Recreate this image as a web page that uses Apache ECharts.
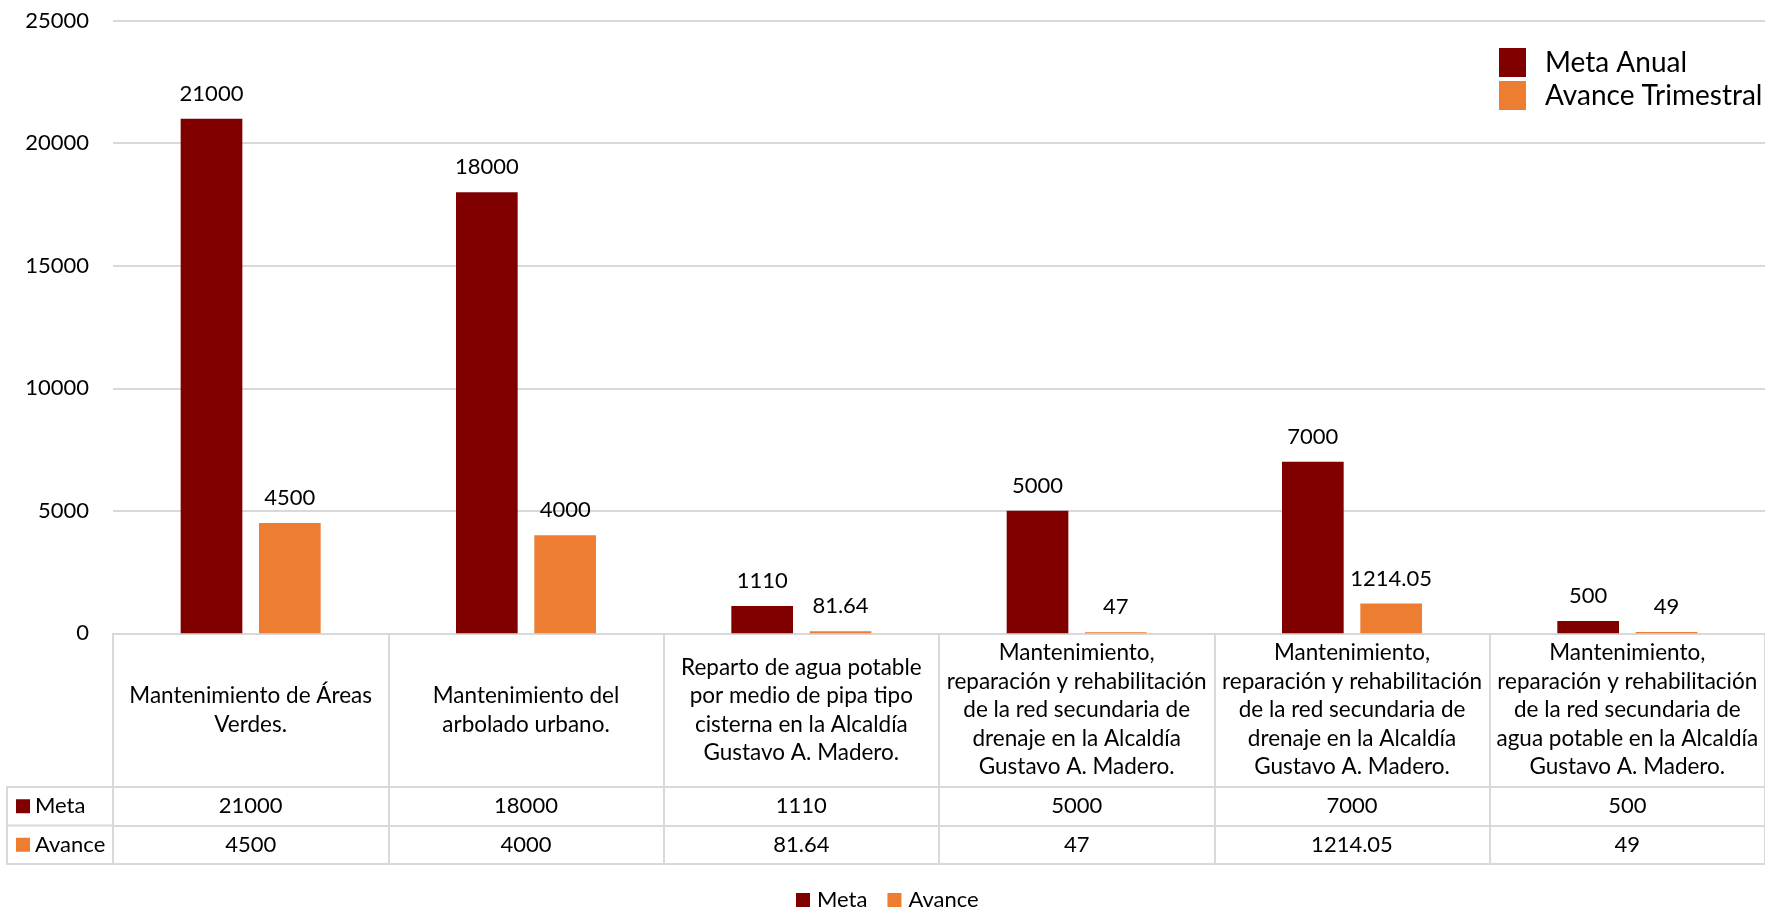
<!DOCTYPE html>
<html>
<head>
<meta charset="utf-8">
<title>Meta Anual vs Avance Trimestral</title>
<script src="https://cdn.jsdelivr.net/npm/echarts@6/dist/echarts.min.js"></script>
<style>
  html, body { margin: 0; padding: 0; background: #fff; }
  #chart { width: 1765px; height: 908px; }
</style>
</head>
<body>
<div id="chart"></div>
<script>
// datos
const categories = [
  'Mantenimiento de Áreas\nVerdes.',
  'Mantenimiento del\narbolado urbano.',
  'Reparto de agua potable\npor medio de pipa tipo\ncisterna en la Alcaldía\nGustavo A. Madero.',
  'Mantenimiento,\nreparación y rehabilitación\nde la red secundaria de\ndrenaje en la Alcaldía\nGustavo A. Madero.',
  'Mantenimiento,\nreparación y rehabilitación\nde la red secundaria de\ndrenaje en la Alcaldía\nGustavo A. Madero.',
  'Mantenimiento,\nreparación y rehabilitación\nde la red secundaria de\nagua potable en la Alcaldía\nGustavo A. Madero.'
];
const seriesNames = ['Meta', 'Avance'];
const legendNames = ['Meta Anual', 'Avance Trimestral'];
const metaValues = [21000, 18000, 1110, 5000, 7000, 500];
const avanceValues = [4500, 4000, 81.64, 47, 1214.05, 49];
const yTicks = [0, 5000, 10000, 15000, 20000, 25000];

const COLORS = ['#800000', '#ED7D31'];
const FONT = 'Lato';
const LINE = '#d9d9d9';
const TXT = '#000';
const FS = 22;

// medidas de la tabla
const W = 1765, H = 908;
const gridLeft = 113, gridTop = 20.7, gridBottom = 274.7, gridRight = -8;
const headerH = 153.7, rowH = 38.5;
const tableLeft = 7;
const zeroY = H - gridBottom;

let chart = echarts.init(document.getElementById('chart'));

function tableAxis(offset, values, tickLen) {
  return {
    type: 'category',
    gridIndex: 0,
    position: 'bottom',
    offset: offset,
    data: categories,
    axisLine: {show: true, lineStyle: {color: LINE, width: 2}},
    axisTick: {show: tickLen > 0, length: tickLen, interval: 0, lineStyle: {color: LINE, width: 2}},
    axisLabel: {
      show: !!values,
      interval: 0,
      margin: rowH / 2,
      verticalAlign: 'middle',
      fontFamily: FONT,
      fontSize: FS,
      color: TXT,
      formatter: (v, i) => values ? String(values[i]) : ''
    }
  };
}

function rowHeader(y, color, text) {
  return [
    {type: 'rect', shape: {x: 16, y: y - 7, width: 14, height: 14}, style: {fill: color}},
    {type: 'text', x: 35, y: y, style: {text: text, fontFamily: FONT, fontSize: FS, fill: TXT, verticalAlign: 'middle'}}
  ];
}

const r1 = zeroY + headerH, r2 = r1 + rowH, r3 = r2 + rowH;

let option = {
  animation: false,
  textStyle: {fontFamily: FONT},
  grid: {left: gridLeft, right: gridRight, top: gridTop, bottom: gridBottom, containLabel: false},
  legend: [
    {
      data: seriesNames,
      orient: 'vertical',
      left: 1494, top: 43,
      icon: 'rect',
      itemWidth: 27, itemHeight: 29, itemGap: 4,
      formatter: name => legendNames[seriesNames.indexOf(name)],
      textStyle: {fontFamily: FONT, fontSize: 28, color: TXT, padding: [0, 0, 0, 14]}
    },
    {
      data: seriesNames,
      orient: 'horizontal',
      left: 791, top: 884,
      icon: 'rect',
      itemWidth: 14, itemHeight: 14, itemGap: 20,
      textStyle: {fontFamily: FONT, fontSize: FS, color: TXT, padding: [0, 0, 0, 2]}
    }
  ],
  xAxis: [
    {
      type: 'category',
      data: categories,
      axisLine: {show: true, lineStyle: {color: LINE, width: 2}},
      axisTick: {show: true, length: headerH, interval: 0, lineStyle: {color: LINE, width: 2}},
      axisLabel: {
        interval: 0,
        margin: headerH / 2,
        verticalAlign: 'middle',
        align: 'center',
        lineHeight: 28.5,
        fontFamily: FONT,
        fontSize: 22.5,
        color: TXT
      }
    },
    tableAxis(headerH, metaValues, rowH),
    tableAxis(headerH + rowH, avanceValues, rowH),
    tableAxis(headerH + 2 * rowH, null, 0)
  ],
  yAxis: {
    type: 'value',
    min: yTicks[0],
    max: yTicks[yTicks.length - 1],
    interval: yTicks[1] - yTicks[0],
    axisLine: {show: false},
    axisTick: {show: false},
    axisLabel: {margin: 24, fontFamily: FONT, fontSize: FS, color: TXT, formatter: v => String(v)},
    splitLine: {lineStyle: {color: LINE, width: 2}}
  },
  series: [
    {
      name: seriesNames[0],
      type: 'bar',
      data: metaValues,
      barWidth: '22.4%',
      barGap: '27%',
      itemStyle: {color: COLORS[0]},
      label: {show: true, position: 'top', distance: 14, fontFamily: FONT, fontSize: FS, color: TXT}
    },
    {
      name: seriesNames[1],
      type: 'bar',
      data: avanceValues,
      barWidth: '22.4%',
      barGap: '27%',
      itemStyle: {color: COLORS[1]},
      label: {show: true, position: 'top', distance: 14, fontFamily: FONT, fontSize: FS, color: TXT}
    }
  ],
  graphic: [
    {type: 'polyline', shape: {points: [[gridLeft, r1], [tableLeft, r1], [tableLeft, r3], [gridLeft, r3]]}, style: {stroke: LINE, lineWidth: 2, fill: null}},
    {type: 'line', shape: {x1: tableLeft, y1: r2, x2: gridLeft, y2: r2}, style: {stroke: LINE, lineWidth: 2}},
    ...rowHeader((r1 + r2) / 2, COLORS[0], seriesNames[0]),
    ...rowHeader((r2 + r3) / 2, COLORS[1], seriesNames[1])
  ]
};

chart.setOption(option);
</script>
</body>
</html>
